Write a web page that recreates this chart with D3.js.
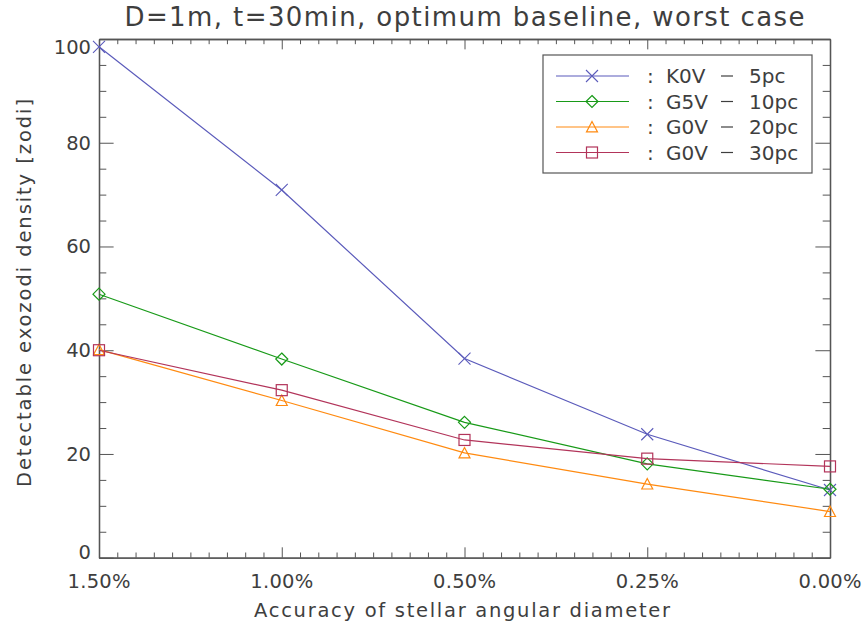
<!DOCTYPE html>
<html>
<head>
<meta charset="utf-8">
<script src="https://cdn.jsdelivr.net/npm/d3@7"></script>
<style>
  body { margin: 0; background: #fff; }
  text { font-family: "DejaVu Sans", sans-serif; fill: #3e3e3e; }
  .axis line, .axis path { stroke: #555; }
</style>
</head>
<body>
<div class="chart"></div>
<script>
// categories along x (accuracy of stellar angular diameter)
const categories = ["1.50%", "1.00%", "0.50%", "0.25%", "0.00%"];

// detectable exozodi density [zodi]
const k0v5 = [98.5, 70.9, 38.4, 23.8, 13.05];
const g5v10 = [50.8, 38.3, 26.1, 18.1, 13.2];
const g0v20 = [40.1, 30.3, 20.2, 14.2, 8.9];
const g0v30 = [40.0, 32.3, 22.7, 19.1, 17.6];

const seriesTypes = ["K0V", "G5V", "G0V", "G0V"];
const seriesDists = ["5pc", "10pc", "20pc", "30pc"];

const yTicks = [0, 20, 40, 60, 80, 100];

const width = 863;
const height = 625;
const margin = { top: 39, right: 33, bottom: 67.3, left: 99 };

const colors = ["#5b5bbb", "#189a18", "#ff8a10", "#b2345a"];
const symbols = ["cross", "diamond", "triangle", "square"];

const series = [k0v5, g5v10, g0v20, g0v30].map((vals, i) => ({
  values: vals,
  type: seriesTypes[i],
  dist: seriesDists[i],
  color: colors[i],
  symbol: symbols[i],
}));

const svg = d3
  .select(".chart")
  .append("svg")
  .attr("width", width)
  .attr("height", height);

const xScale = d3
  .scaleLinear()
  .domain([0, categories.length - 1])
  .range([margin.left, width - margin.right]);

const yScale = d3
  .scaleLinear()
  .domain([0, 100])
  .range([height - margin.bottom, margin.top]);

const plotW = width - margin.left - margin.right;
const plotH = height - margin.top - margin.bottom;

// IDL style ticks: major 2% of the plot, minor half of that
const xMajorLen = plotH * 0.02;
const yMajorLen = plotW * 0.02;

const xMinor = d3.range(0, 4.0001, 0.1).filter((d) => Math.abs(d - Math.round(d)) > 1e-6);
const yMinor = d3.range(0, 101, 5).filter((d) => d % 20 !== 0);

// bottom axis
svg.append("g")
  .attr("class", "axis")
  .attr("transform", `translate(0, ${height - margin.bottom})`)
  .call(d3.axisBottom(xScale).tickValues(d3.range(categories.length)).tickSize(-xMajorLen).tickSizeOuter(0).tickFormat(""));
svg.append("g")
  .attr("class", "axis")
  .attr("transform", `translate(0, ${height - margin.bottom})`)
  .call(d3.axisBottom(xScale).tickValues(xMinor).tickSize(-xMajorLen / 2).tickSizeOuter(0).tickFormat(""));

// top axis (mirrored)
svg.append("g")
  .attr("class", "axis")
  .attr("transform", `translate(0, ${margin.top})`)
  .call(d3.axisTop(xScale).tickValues(d3.range(categories.length)).tickSize(-xMajorLen).tickSizeOuter(0).tickFormat(""));
svg.append("g")
  .attr("class", "axis")
  .attr("transform", `translate(0, ${margin.top})`)
  .call(d3.axisTop(xScale).tickValues(xMinor).tickSize(-xMajorLen / 2).tickSizeOuter(0).tickFormat(""));

// left axis
svg.append("g")
  .attr("class", "axis")
  .attr("transform", `translate(${margin.left}, 0)`)
  .call(d3.axisLeft(yScale).tickValues(yTicks).tickSize(-yMajorLen).tickSizeOuter(0).tickFormat(""));
svg.append("g")
  .attr("class", "axis")
  .attr("transform", `translate(${margin.left}, 0)`)
  .call(d3.axisLeft(yScale).tickValues(yMinor).tickSize(-yMajorLen / 2).tickSizeOuter(0).tickFormat(""));

// right axis
svg.append("g")
  .attr("class", "axis")
  .attr("transform", `translate(${width - margin.right}, 0)`)
  .call(d3.axisRight(yScale).tickValues(yTicks).tickSize(-yMajorLen).tickSizeOuter(0).tickFormat(""));
svg.append("g")
  .attr("class", "axis")
  .attr("transform", `translate(${width - margin.right}, 0)`)
  .call(d3.axisRight(yScale).tickValues(yMinor).tickSize(-yMajorLen / 2).tickSizeOuter(0).tickFormat(""));

svg.selectAll(".axis .domain").attr("stroke-width", 1.3);

// x tick labels
svg.append("g")
  .selectAll("text")
  .data(categories)
  .enter()
  .append("text")
  .attr("x", (d, i) => xScale(i))
  .attr("y", 588)
  .attr("text-anchor", "middle")
  .attr("textLength", 63)
  .attr("lengthAdjust", "spacing")
  .style("font-size", "19.5px")
  .text((d) => d);

// y tick labels (IDL pulls the end labels inside the axis range)
svg.append("g")
  .selectAll("text")
  .data(yTicks)
  .enter()
  .append("text")
  .attr("x", 91)
  .attr("y", (d) => {
    let c = yScale(d);
    if (d === 0) c -= 6;
    if (d === 100) c += 8;
    return c + 7;
  })
  .attr("text-anchor", "end")
  .style("font-size", "19.5px")
  .text((d) => d);

// title
svg.append("text")
  .attr("x", (margin.left + width - margin.right) / 2)
  .attr("y", 26)
  .attr("text-anchor", "middle")
  .attr("textLength", 680)
  .attr("lengthAdjust", "spacing")
  .style("font-size", "26px")
  .text("D=1m, t=30min, optimum baseline, worst case");

// axis labels
svg.append("text")
  .attr("x", 462)
  .attr("y", 617)
  .attr("text-anchor", "middle")
  .attr("textLength", 416)
  .attr("lengthAdjust", "spacing")
  .style("font-size", "19.5px")
  .text("Accuracy of stellar angular diameter");

svg.append("text")
  .attr("transform", `translate(31, 293) rotate(-90)`)
  .attr("text-anchor", "middle")
  .attr("textLength", 388)
  .attr("lengthAdjust", "spacing")
  .style("font-size", "19.5px")
  .text("Detectable exozodi density [zodi]");

// symbols
function drawSymbol(g, type, color, cx, cy) {
  if (type === "cross") {
    const s = 6;
    g.append("path")
      .attr("d", `M${cx - s},${cy - s}L${cx + s},${cy + s}M${cx - s},${cy + s}L${cx + s},${cy - s}`)
      .attr("stroke", color).attr("fill", "none").attr("stroke-width", 1.1);
  } else if (type === "diamond") {
    const s = 6;
    g.append("path")
      .attr("d", `M${cx},${cy - s}L${cx + s},${cy}L${cx},${cy + s}L${cx - s},${cy}Z`)
      .attr("stroke", color).attr("fill", "none").attr("stroke-width", 1.2);
  } else if (type === "triangle") {
    const s = 5.5;
    g.append("path")
      .attr("d", `M${cx},${cy - s}L${cx + s},${cy + s * 0.9}L${cx - s},${cy + s * 0.9}Z`)
      .attr("stroke", color).attr("fill", "none").attr("stroke-width", 1.2);
  } else {
    const s = 5.5;
    g.append("rect")
      .attr("x", cx - s).attr("y", cy - s)
      .attr("width", 2 * s).attr("height", 2 * s)
      .attr("stroke", color).attr("fill", "none").attr("stroke-width", 1.2);
  }
}

const line = d3.line()
  .x((d, i) => xScale(i))
  .y((d) => yScale(d));

series.forEach((s) => {
  const g = svg.append("g");
  g.append("path")
    .datum(s.values)
    .attr("d", line)
    .attr("fill", "none")
    .attr("stroke", s.color)
    .attr("stroke-width", 1.2);
  s.values.forEach((v, i) => drawSymbol(g, s.symbol, s.color, xScale(i), yScale(v)));
});

// legend
const legend = svg.append("g");
legend.append("rect")
  .attr("x", 543)
  .attr("y", 55)
  .attr("width", 269)
  .attr("height", 118)
  .attr("fill", "#fff")
  .attr("stroke", "#555")
  .attr("stroke-width", 1.2);

series.forEach((s, i) => {
  const cy = 76 + i * 25.5;
  const row = legend.append("g");
  row.append("line")
    .attr("x1", 556).attr("x2", 629)
    .attr("y1", cy).attr("y2", cy)
    .attr("stroke", s.color)
    .attr("stroke-width", 1.2);
  drawSymbol(row, s.symbol, s.color, 592, cy);
  row.append("text").attr("x", 647).attr("y", cy + 7).style("font-size", "20px").text(":");
  row.append("text").attr("x", 666).attr("y", cy + 7).style("font-size", "20px").text(s.type);
  row.append("line")
    .attr("x1", 721).attr("x2", 733)
    .attr("y1", cy).attr("y2", cy)
    .attr("stroke", "#3e3e3e")
    .attr("stroke-width", 1.2);
  row.append("text").attr("x", 749).attr("y", cy + 7).style("font-size", "20px").text(s.dist);
});
</script>
</body>
</html>
